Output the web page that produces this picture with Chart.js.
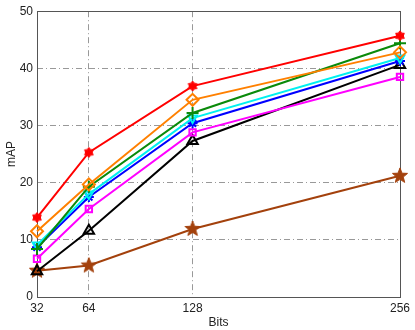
<!DOCTYPE html>
<html>
<head>
<meta charset="utf-8">
<script src="https://cdn.jsdelivr.net/npm/chart.js@4"></script>
<style>
  html, body { margin: 0; padding: 0; background: #fff; }
  #wrap { width: 415px; height: 330px; }
</style>
</head>
<body>
<div id="wrap"><canvas id="mapChart"></canvas></div>
<script>
// data
const bits = [32, 64, 128, 256];
const yTicks = [0, 10, 20, 30, 40, 50];

const redVals     = [13.9, 25.3, 36.9, 45.7];
const orangeVals  = [11.5, 19.7, 34.5, 42.8];
const greenVals   = [8.4, 19.3, 32.2, 44.4];
const cyanVals    = [9.1, 18.0, 31.3, 41.8];
const blueVals    = [8.7, 17.5, 30.4, 41.3];
const magentaVals = [6.7, 15.4, 28.8, 38.5];
const blackVals   = [4.5, 11.6, 27.3, 40.6];
const brownVals   = [4.6, 5.5, 11.9, 21.2];

// filled star-shaped markers (MATLAB pentagram / hexagram)
function starMarker(points, outer, inner, color) {
    const c = document.createElement('canvas');
    const s = Math.ceil(outer * 2 + 2);
    c.width = s; c.height = s;
    const g = c.getContext('2d');
    g.beginPath();
    for (let i = 0; i < points * 2; i++) {
        const r = i % 2 === 0 ? outer : inner;
        const a = -Math.PI / 2 + i * Math.PI / points;
        const px = s / 2 + r * Math.cos(a), py = s / 2 + r * Math.sin(a);
        if (i === 0) g.moveTo(px, py); else g.lineTo(px, py);
    }
    g.closePath();
    g.fillStyle = color;
    g.fill();
    g.strokeStyle = color;
    g.lineWidth = 1;
    g.stroke();
    return c;
}

const brown = '#a3410c';
const hexRed = starMarker(6, 5, 3.3, '#ff0000');
const pentaBrown = starMarker(5, 8, 3.4, brown);

function series(data, color, style, radius, extra) {
    return Object.assign({
        data: data.map((v, i) => ({ x: bits[i], y: v })),
        borderColor: color,
        backgroundColor: 'rgba(0,0,0,0)',
        pointBorderColor: color,
        pointBackgroundColor: 'rgba(0,0,0,0)',
        borderWidth: 2,
        pointBorderWidth: 2,
        pointStyle: style,
        pointRadius: radius,
        tension: 0,
        clip: false
    }, extra || {});
}

const frame = {
    id: 'frame',
    beforeDatasetsDraw(chart) {
        const { ctx, chartArea: a } = chart;
        ctx.save();
        ctx.strokeStyle = '#555';
        ctx.lineWidth = 1;
        ctx.strokeRect(Math.round(a.left) + 0.5, Math.round(a.top) + 0.5,
            Math.round(a.right - a.left), Math.round(a.bottom - a.top));
        ctx.restore();
    }
};

Chart.defaults.font.family = '"Liberation Sans", Arial, sans-serif';
Chart.defaults.font.size = 12;
Chart.defaults.color = '#222';

new Chart(document.getElementById('mapChart').getContext('2d'), {
    type: 'line',
    data: {
        datasets: [
            series(redVals, '#ff0000', hexRed, 5),
            series(orangeVals, '#ff8000', 'rectRot', 6),
            series(greenVals, '#0a8a0a', 'cross', 6),
            series(cyanVals, '#00f0f0', 'triangle', 5, { pointRotation: 180 }),
            series(blueVals, '#0000ff', 'star', 5),
            series(magentaVals, '#ff00ff', 'rect', 4.5),
            series(blackVals, '#000000', 'triangle', 6),
            series(brownVals, brown, pentaBrown, 8)
        ]
    },
    options: {
        responsive: true,
        maintainAspectRatio: false,
        animation: false,
        layout: { padding: { top: 10, right: 15, left: 0, bottom: 0 } },
        plugins: { legend: { display: false }, tooltip: { enabled: false } },
        scales: {
            x: {
                type: 'linear',
                min: 32,
                max: 256,
                afterBuildTicks: s => { s.ticks = bits.map(v => ({ value: v })); },
                afterFit: s => { s.height = 33; },
                ticks: { padding: 4, maxRotation: 0, autoSkip: false },
                grid: {
                    color: c => (c.tick && (c.tick.value === 32 || c.tick.value === 256)) ? 'rgba(0,0,0,0)' : '#999',
                    lineWidth: 1,
                    drawTicks: false
                },
                border: { display: false, dash: [6, 3, 1, 3] },
                title: { display: true, text: 'Bits', padding: 0 }
            },
            y: {
                min: 0,
                max: 50,
                afterBuildTicks: s => { s.ticks = yTicks.map(v => ({ value: v })); },
                afterFit: s => { s.width = 37; },
                ticks: { padding: 4 },
                grid: {
                    color: c => (c.tick && (c.tick.value === 0 || c.tick.value === 50)) ? 'rgba(0,0,0,0)' : '#999',
                    lineWidth: 1,
                    drawTicks: false
                },
                border: { display: false, dash: [6, 3, 1, 3] },
                title: { display: true, text: 'mAP', padding: 4 }
            }
        }
    },
    plugins: [frame]
});
</script>
</body>
</html>
